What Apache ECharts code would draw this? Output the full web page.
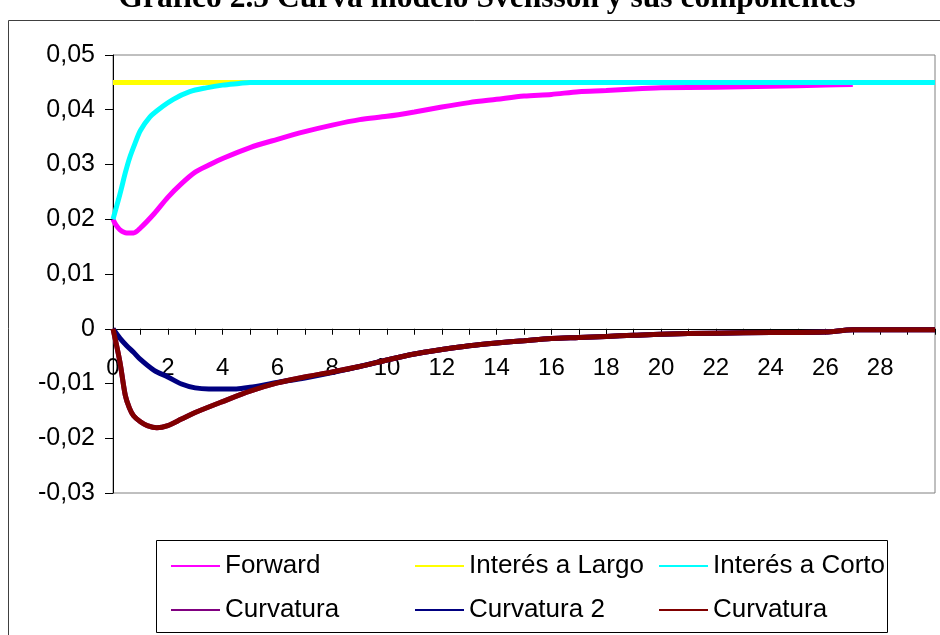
<!DOCTYPE html>
<html>
<head>
<meta charset="utf-8">
<script src="https://cdn.jsdelivr.net/npm/echarts@6/dist/echarts.min.js"></script>
<style>
  html, body { margin: 0; padding: 0; background: #ffffff; }
  #chart { width: 940px; height: 635px; }
</style>
</head>
<body>
<div id="chart"></div>
<script>
// Curva forward (modelo Svensson) por plazo en años
const plazosForward = [0, 0.1, 0.25, 0.5, 0.75, 1, 1.5, 2, 2.5, 3, 3.5, 4, 5, 6, 7, 8, 9, 10, 11, 12, 13, 14, 15, 16, 17, 18, 19, 20, 22, 24, 26, 27];
const forward = [0.0200, 0.0190, 0.0181, 0.0175, 0.0175, 0.0184, 0.0210, 0.0240, 0.0265, 0.0286, 0.0299, 0.0311, 0.0331, 0.0346, 0.0360, 0.0372, 0.0382, 0.0388, 0.0396, 0.0405, 0.0413, 0.0419, 0.0425, 0.0428, 0.0433, 0.0435, 0.0438, 0.0440, 0.0441, 0.0443, 0.0445, 0.0446];

// Componente de largo plazo (nivel)
const plazosLargo = [0, 30];
const interesLargo = [0.045, 0.045];

// Componente de corto plazo
const plazosCorto = [0, 0.2, 0.3, 0.45, 0.6, 0.8, 1, 1.35, 1.7, 2.2, 2.8, 3.4, 4, 4.6, 5, 30];
const interesCorto = [0.0200, 0.0236, 0.0255, 0.0285, 0.0311, 0.0338, 0.0362, 0.0387, 0.0402, 0.0419, 0.0433, 0.0440, 0.0445, 0.0448, 0.0450, 0.0450];

// Componentes de curvatura
const plazosCurvatura = [0, 0.25, 0.45, 0.6, 0.75, 1, 1.25, 1.6, 2, 2.5, 3, 4, 5, 6, 7, 8, 9, 10, 11, 12, 13, 14, 15, 16, 17, 18, 19, 20, 22, 24, 26, 27, 30];
const curvatura = [0, -0.0060, -0.0122, -0.0145, -0.0159, -0.0170, -0.0177, -0.0181, -0.0177, -0.0165, -0.0153, -0.0133, -0.0114, -0.0099, -0.0088, -0.0079, -0.0069, -0.0057, -0.0046, -0.0038, -0.0031, -0.0026, -0.0022, -0.0018, -0.0016, -0.0014, -0.0012, -0.0010, -0.0008, -0.0007, -0.0006, -0.0002, -0.0002];

const plazosCurvatura2 = [0, 0.25, 0.5, 0.75, 1, 1.5, 2, 2.5, 3, 3.5, 4, 4.5, 5, 6, 7, 8, 9, 10, 11, 12, 13, 14, 15, 16, 17, 18, 19, 20, 22, 24, 26, 27, 30];
const curvatura2 = [0, -0.0017, -0.0031, -0.0043, -0.0056, -0.0076, -0.0088, -0.0101, -0.0108, -0.0110, -0.0110, -0.0110, -0.0107, -0.0098, -0.0090, -0.0080, -0.0069, -0.0057, -0.0046, -0.0038, -0.0031, -0.0026, -0.0022, -0.0018, -0.0016, -0.0014, -0.0012, -0.0010, -0.0008, -0.0007, -0.0006, -0.0002, -0.0002];

// Escala del eje vertical
const yMin = -0.03, yMax = 0.05, yPaso = 0.01;

// Textos de la leyenda (la segunda "Curvatura" necesita un nombre interno propio)
const etiquetas = {
  'Forward': 'Forward',
  'Interés a Largo': 'Interés a Largo',
  'Interés a Corto': 'Interés a Corto',
  'Curvatura': 'Curvatura',
  'Curvatura 2': 'Curvatura 2',
  'CurvaturaB': 'Curvatura'
};

const titulo = 'Gráfico 2.5 Curva modelo Svensson y sus componentes';

const pares = (xs, ys) => xs.map((x, i) => [x, ys[i]]);
const FUENTE = "'Liberation Sans', Arial, sans-serif";

// Área de trazado
const GRID = { left: 113, right: 5, top: 55, bottom: 142 };
const altoGrid = 635 - GRID.top - GRID.bottom;
// El eje de plazos se dibuja sobre la línea de cero
const desplazamientoCero = -altoGrid * (0 - yMin) / (yMax - yMin);

function serie(nombre, color, xs, ys) {
  return {
    name: nombre,
    type: 'line',
    color: color,
    data: pares(xs, ys),
    showSymbol: false,
    symbol: 'none',
    smooth: 0.3,
    lineStyle: { color: color, width: 5 },
    emphasis: { disabled: true }
  };
}

function leyenda(items, left) {
  return {
    data: items,
    left: left,
    top: 546,
    orient: 'vertical',
    itemGap: 14,
    itemWidth: 49,
    itemHeight: 2,
    icon: 'rect',
    selectedMode: false,
    formatter: n => etiquetas[n],
    textStyle: { fontFamily: FUENTE, fontSize: 26, color: '#000', lineHeight: 30 }
  };
}

const chart = echarts.init(document.getElementById('chart'), null, { renderer: 'canvas' });

chart.setOption({
  animation: false,
  backgroundColor: '#ffffff',
  graphic: [
    {
      type: 'rect', z: -10, silent: true,
      shape: { x: 8.5, y: 20.5, width: 950, height: 650 },
      style: { fill: '#ffffff', stroke: '#404040', lineWidth: 1 }
    },
    {
      type: 'rect', z: -5, silent: true,
      shape: { x: 156.5, y: 540.5, width: 731, height: 92 },
      style: { fill: '#ffffff', stroke: '#000000', lineWidth: 1 }
    },
    {
      type: 'text', z: 10, silent: true,
      x: 487, y: -1.5,
      style: {
        text: titulo,
        fill: '#000',
        font: "bold 31.5px 'Liberation Serif', 'Times New Roman', serif",
        align: 'center',
        verticalAlign: 'middle'
      }
    }
  ],
  grid: Object.assign({
    show: true, borderColor: '#808080', borderWidth: 1,
    backgroundColor: 'transparent'
  }, GRID),
  legend: [
    leyenda(['Forward', 'Curvatura'], 166),
    leyenda(['Interés a Largo', 'Curvatura 2'], 410),
    leyenda(['Interés a Corto', 'CurvaturaB'], 654)
  ],
  xAxis: {
    type: 'value',
    min: 0, max: 30, interval: 2,
    position: 'bottom',
    offset: desplazamientoCero,
    axisLine: { show: true, onZero: false, lineStyle: { color: '#000', width: 1 } },
    axisTick: { show: true, length: 6, lineStyle: { color: '#000' } },
    minorTick: { show: true, splitNumber: 2, length: 6, lineStyle: { color: '#000' } },
    splitLine: { show: false },
    minorSplitLine: { show: false },
    axisLabel: {
      fontFamily: FUENTE, fontSize: 24, color: '#000', margin: 28,
      formatter: v => (v >= 30 ? '' : String(v))
    }
  },
  yAxis: {
    type: 'value',
    min: yMin, max: yMax, interval: yPaso,
    axisLine: { show: true, onZero: false, lineStyle: { color: '#000', width: 1 } },
    axisTick: { show: true, length: 8, lineStyle: { color: '#000' } },
    splitLine: { show: false },
    axisLabel: {
      fontFamily: FUENTE, fontSize: 25, color: '#000', margin: 18,
      formatter: v => (Math.abs(v) < 1e-9 ? '0' : v.toFixed(2).replace('.', ','))
    }
  },
  series: [
    serie('Forward', '#FF00FF', plazosForward, forward),
    serie('Interés a Largo', '#FFFF00', plazosLargo, interesLargo),
    serie('Interés a Corto', '#00FFFF', plazosCorto, interesCorto),
    serie('Curvatura', '#800080', plazosCurvatura, curvatura),
    serie('Curvatura 2', '#000080', plazosCurvatura2, curvatura2),
    serie('CurvaturaB', '#800000', plazosCurvatura, curvatura)
  ]
});
</script>
</body>
</html>
